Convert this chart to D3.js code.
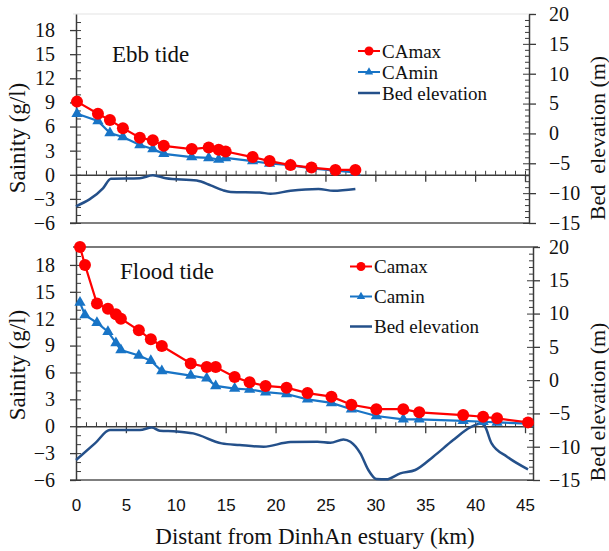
<!DOCTYPE html>
<html>
<head>
<meta charset="utf-8">
<script src="https://cdn.jsdelivr.net/npm/d3@7/dist/d3.min.js"></script>
<style>
  body { margin: 0; background: #fff; }
  svg { display: block; }
</style>
</head>
<body>
<svg id="chart" width="609" height="551"></svg>
<script>
// Ebb tide (km from estuary, salinity g/l)
const ebbDist = [0.1, 2.2, 3.4, 4.7, 6.4, 7.7, 8.8, 11.6, 13.3, 14.3, 15.0, 17.7, 19.4, 21.5, 23.6, 26.0, 28.0];
const ebbMax = [9.1, 7.6, 6.8, 5.8, 4.6, 4.3, 3.6, 3.2, 3.4, 3.1, 2.9, 2.2, 1.7, 1.2, 0.9, 0.6, 0.6];
const ebbMin = [7.6, 6.7, 5.2, 4.7, 3.7, 3.2, 2.6, 2.2, 2.1, 1.9, 2.1, 1.7, 1.4, 1.2, 0.8, 0.5, 0.3];
const ebbBedDist = [0, 2.7, 3.5, 6.4, 7.7, 9.0, 12.1, 13.5, 14.7, 15.5, 18.4, 19.5, 21.5, 24.3, 25.8, 28.0];
const ebbBed = [-12.2, -9.2, -7.6, -7.5, -7.0, -7.5, -7.9, -8.7, -9.5, -9.8, -9.9, -10.1, -9.6, -9.3, -9.6, -9.3];

// Flood tide
const floodDist = [0.4, 0.9, 2.1, 3.2, 4.0, 4.5, 6.3, 7.5, 8.6, 11.5, 13.1, 14.0, 15.9, 17.4, 19.0, 21.1, 23.2, 25.6, 27.6, 30.1, 32.8, 34.4, 38.8, 40.8, 42.2, 45.3];
const floodMax = [20.0, 18.0, 13.7, 13.1, 12.5, 12.0, 10.7, 9.7, 8.95, 7.0, 6.6, 6.6, 5.5, 4.9, 4.5, 4.3, 3.7, 3.3, 2.4, 1.9, 1.9, 1.55, 1.25, 1.06, 0.88, 0.43];
const floodMin = [13.8, 12.4, 11.55, 10.55, 9.3, 8.5, 7.9, 7.3, 6.15, 5.65, 5.35, 4.5, 4.2, 4.1, 3.8, 3.6, 3.0, 2.6, 1.9, 1.14, 0.77, 0.77, 0.6, 0.5, 0.43, 0.3];
const floodBedDist = [0, 1.9, 3.4, 6.4, 7.6, 8.4, 10.1, 11.75, 14.6, 16.4, 18.8, 21.5, 24.2, 25.5, 26.8, 27.5, 28.5, 29.3, 30.1, 31.1, 32.5, 34.0, 35.8, 37.8, 39.5, 40.6, 41.0, 41.65, 43.2, 45.3];
const floodBed = [-12.0, -9.5, -7.5, -7.5, -7.1, -7.6, -7.7, -8.0, -9.5, -9.75, -10.0, -9.3, -9.25, -9.4, -8.9, -9.25, -11.0, -13.5, -14.85, -14.9, -14.0, -13.5, -11.5, -9.0, -7.1, -6.5, -7.0, -9.5, -11.5, -13.4];

// axis ticks
const salTicks = [-6, -3, 0, 3, 6, 9, 12, 15, 18];
const bedTicks = [-15, -10, -5, 0, 5, 10, 15, 20];
const distTicks = [0, 5, 10, 15, 20, 25, 30, 35, 40, 45];

const RED = "#ff0000", BLUE = "#1874c6", NAVY = "#24508a", AXIS = "#3a3a3a";
const SERIF = "'Liberation Serif', 'Times New Roman', serif";
const SANS = "'Liberation Sans', Arial, sans-serif";

const svg = d3.select("#chart");

// helper for styled serif text
const serif = (sel, size) => sel.style("font-family", SERIF).style("font-size", size + "px").attr("fill", "#111");

const panels = [
  {
    title: "Ebb tide", titleX: 112, titleY: 62,
    top: 14, bottom: 223, left: 76, right: 529, xMax: 45.4, rPad: 13,
    dist: ebbDist, max: ebbMax, min: ebbMin, bedDist: ebbBedDist, bed: ebbBed,
    legend: ["CAmax", "CAmin", "Bed elevation"], legX: 358, legY: 51, legStep: 21,
    rightTitle: "Bed\u00a0 elevation (m)", rightTitleY: 138, leftTitleY: 138,
    topBorder: "#e4e4e4"
  },
  {
    title: "Flood tide", titleX: 120, titleY: 279,
    top: 247, bottom: 480, left: 76, right: 533, xMax: 45.8, rPad: 9,
    dist: floodDist, max: floodMax, min: floodMin, bedDist: floodBedDist, bed: floodBed,
    legend: ["Camax", "Camin", "Bed elevation"], legX: 350, legY: 266.5, legStep: 30,
    rightTitle: "Bed elevation (m)", rightTitleY: 402, leftTitleY: 365,
    topBorder: "#7a7a7a", xLabels: true
  }
];

panels.forEach(p => {
  const g = svg.append("g");
  const x = d3.scaleLinear().domain([0, p.xMax]).range([p.left, p.right]);
  const yL = d3.scaleLinear().domain([-6, 20]).range([p.bottom, p.top]);
  const yR = d3.scaleLinear().domain([-15, 20]).range([p.bottom, p.top]);

  // frame lines
  g.append("line").attr("x1", p.left - 3).attr("x2", p.right + 5)
    .attr("y1", p.top).attr("y2", p.top)
    .attr("stroke", p.topBorder).attr("stroke-width", p.xLabels ? 2 : 1.2);
  g.append("line").attr("x1", p.left - 6).attr("x2", p.right)
    .attr("y1", p.bottom).attr("y2", p.bottom)
    .attr("stroke", "#555").attr("stroke-width", 1.5);

  // left axis: labelled major ticks outward, minor ticks inward
  const la = g.append("g").attr("transform", `translate(${p.left},0)`)
    .call(d3.axisLeft(yL).tickValues(salTicks).tickSize(6).tickSizeOuter(0).tickPadding(15));
  la.select(".domain").attr("stroke", AXIS).attr("stroke-width", 1.5);
  la.selectAll(".tick line").attr("stroke", AXIS).attr("stroke-width", 1.3);
  la.selectAll("text").call(serif, 20);
  const li = g.append("g").attr("transform", `translate(${p.left},0)`)
    .call(d3.axisRight(yL).tickValues(d3.range(-6, 20, 1)).tickSize(5).tickFormat(""));
  li.select(".domain").remove();
  li.selectAll(".tick line").attr("stroke", AXIS).attr("stroke-width", 1);

  // right axis
  const ra = g.append("g").attr("transform", `translate(${p.right},0)`)
    .call(d3.axisRight(yR).tickValues(bedTicks).tickSize(7).tickSizeOuter(0).tickPadding(p.rPad));
  ra.select(".domain").attr("stroke", AXIS).attr("stroke-width", 1.5);
  ra.selectAll(".tick line").attr("stroke", AXIS).attr("stroke-width", 1.3);
  ra.selectAll("text").call(serif, 20);
  const ri = g.append("g").attr("transform", `translate(${p.right},0)`)
    .call(d3.axisLeft(yR).tickValues(d3.range(-15, 20, 1)).tickSize(4).tickFormat(""));
  ri.select(".domain").remove();
  ri.selectAll(".tick line").attr("stroke", AXIS).attr("stroke-width", 1);
  ri.selectAll(".tick").filter(d => d % 5 === 0).select("line").attr("x2", -6);

  // zero line with distance ticks
  const y0 = yL(0);
  const za = g.append("g").attr("transform", `translate(0,${y0})`)
    .call(d3.axisTop(x).tickValues(d3.range(1, Math.floor(p.xMax) + 1, 1)).tickSize(4).tickSizeOuter(0).tickFormat(""));
  za.select(".domain").attr("stroke", AXIS).attr("stroke-width", 1.5);
  za.selectAll(".tick line").attr("stroke", AXIS).attr("stroke-width", 1);
  const zb = g.append("g").attr("transform", `translate(0,${y0})`)
    .call(d3.axisBottom(x).tickValues(distTicks.filter(d => d > 0)).tickSize(7).tickFormat(""));
  zb.select(".domain").remove();
  zb.selectAll(".tick line").attr("stroke", AXIS).attr("stroke-width", 1.3);

  if (p.xLabels) {
    const xa = g.append("g").attr("transform", `translate(0,${p.bottom})`)
      .call(d3.axisBottom(x).tickValues(distTicks).tickSize(0).tickPadding(19));
    xa.select(".domain").remove();
    xa.selectAll("text").style("font-family", SANS).style("font-size", "17px").attr("fill", "#111");
  }

  // series
  const bedLine = d3.line().x((d, i) => x(p.bedDist[i])).y(d => yR(d)).curve(d3.curveMonotoneX);
  g.append("path").datum(p.bed).attr("d", bedLine)
    .attr("fill", "none").attr("stroke", NAVY).attr("stroke-width", 2.5);

  const salLine = d3.line().x((d, i) => x(p.dist[i])).y(d => yL(d));
  g.append("path").datum(p.min).attr("d", salLine)
    .attr("fill", "none").attr("stroke", BLUE).attr("stroke-width", 2.2);
  g.selectAll(".tri").data(p.min).join("path").attr("class", "tri")
    .attr("d", d3.symbol(d3.symbolTriangle, 55))
    .attr("transform", (d, i) => `translate(${x(p.dist[i])},${yL(d)})`)
    .attr("fill", BLUE);

  g.append("path").datum(p.max).attr("d", salLine)
    .attr("fill", "none").attr("stroke", RED).attr("stroke-width", 2.2);
  g.selectAll(".dot").data(p.max).join("circle").attr("class", "dot")
    .attr("cx", (d, i) => x(p.dist[i])).attr("cy", d => yL(d)).attr("r", 6)
    .attr("fill", RED);

  // panel title
  g.append("text").attr("x", p.titleX).attr("y", p.titleY).call(serif, 23).text(p.title);

  // legend
  const colors = [RED, BLUE, NAVY];
  p.legend.forEach((name, i) => {
    const ly = p.legY + i * p.legStep;
    const lg = g.append("g");
    lg.append("line").attr("x1", p.legX).attr("x2", p.legX + 22).attr("y1", ly).attr("y2", ly)
      .attr("stroke", colors[i]).attr("stroke-width", i === 2 ? 2.5 : 2);
    if (i === 0) lg.append("circle").attr("cx", p.legX + 11).attr("cy", ly).attr("r", 4.5).attr("fill", RED);
    if (i === 1) lg.append("path").attr("d", d3.symbol(d3.symbolTriangle, 30))
      .attr("transform", `translate(${p.legX + 11},${ly})`).attr("fill", BLUE);
    lg.append("text").attr("x", p.legX + 24).attr("y", ly).attr("dy", "0.35em")
      .call(serif, 19).text(name);
  });

  // axis titles
  g.append("text")
    .attr("transform", `translate(25,${p.leftTitleY}) rotate(-90)`)
    .attr("text-anchor", "middle").call(serif, 23).text("Sainity (g/l)");
  g.append("text")
    .attr("transform", `translate(605,${p.rightTitleY}) rotate(-90)`)
    .attr("text-anchor", "middle").call(serif, 22).text(p.rightTitle);
});

svg.append("text").attr("x", 315).attr("y", 544)
  .attr("text-anchor", "middle").call(serif, 23)
  .text("Distant from DinhAn estuary (km)");
</script>
</body>
</html>
